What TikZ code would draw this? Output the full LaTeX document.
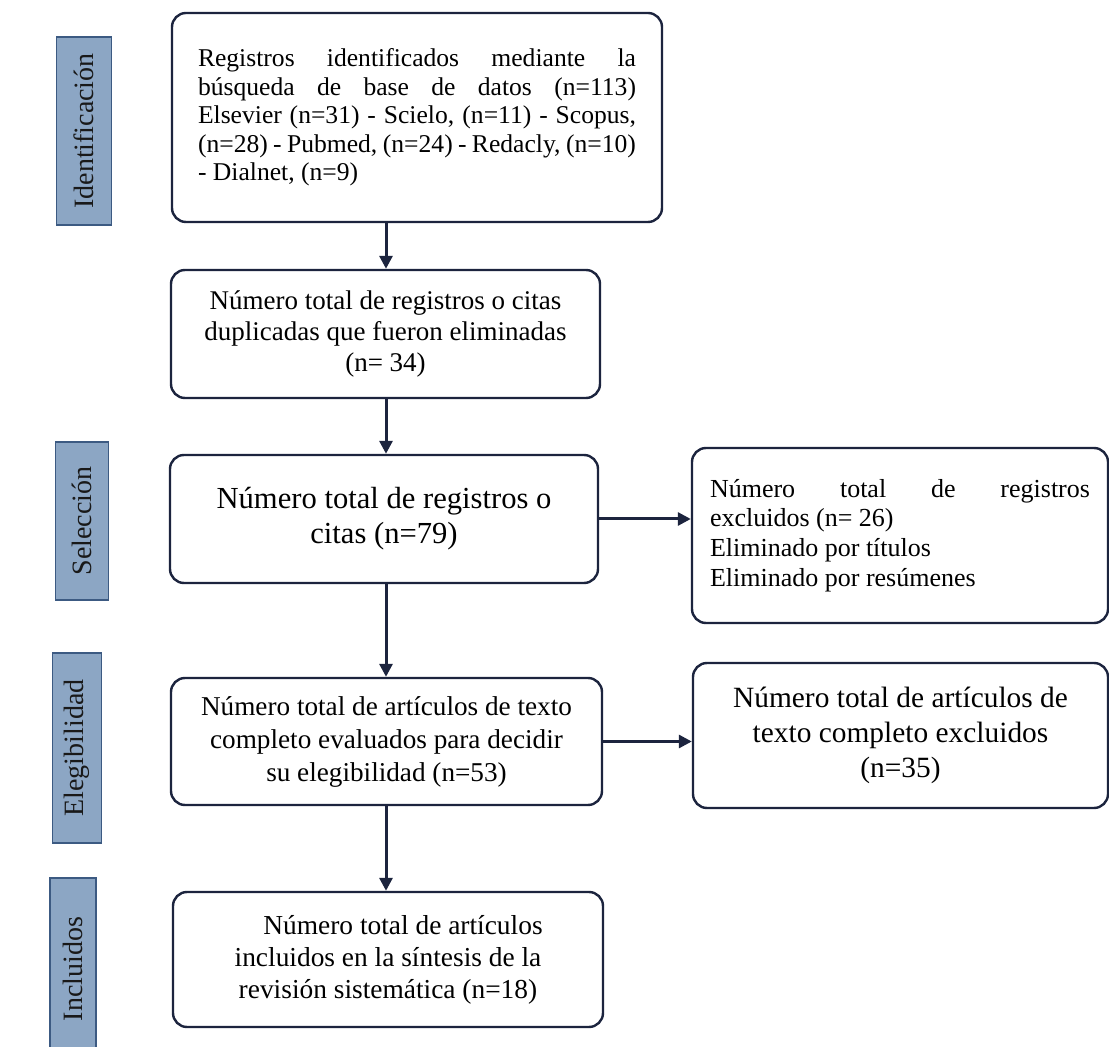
\documentclass[tikz,border=0pt]{standalone}
\usepackage{fontspec}
\setmainfont{Liberation Serif}
\usetikzlibrary{arrows.meta}
\definecolor{linea}{RGB}{28,36,62}
\definecolor{etapafondo}{RGB}{140,166,196}
\definecolor{etapaborde}{RGB}{60,90,130}
\tikzset{
	caja/.style={draw=linea, line width=1.2pt, rounded corners=7pt, align=center, text=black},
	etapa/.style={draw=etapaborde, fill=etapafondo, line width=0.6pt, rotate=90, text=black!90, font=\fontsize{14}{16}\selectfont},
	flecha/.style={draw=linea, line width=1.5pt, -{Triangle[length=6.5pt,width=6.5pt]}}
}
\begin{document}
\begin{tikzpicture}[x=0.5pt,y=-0.5pt]
		%%%%% MARCO %%%%%
		\clip (0,0) rectangle (1109,1047);
		\fill[white] (0,0) rectangle (1109,1047);
		
		%%%%% ETAPAS %%%%%
		\node[etapa, minimum width=94pt, minimum height=27.5pt] (identificacion) at (84,131) {Identificación};
		\node[etapa, minimum width=79pt, minimum height=26.5pt] (seleccion) at (82,521) {Selección};
		\node[etapa, minimum width=95pt, minimum height=24.5pt] (elegibilidad) at (77,748) {Elegibilidad};
		\node[etapa, minimum width=91pt, minimum height=23pt] (incluidos) at (73,969) {Incluidos};
		
		%%%%% CAJAS %%%%%
		\node[caja, minimum width=245pt, minimum height=104.5pt, text width=219pt, align=justify, font=\fontsize{12.8}{14.3}\selectfont] (busqueda) at (417,117.5)
			{Registros identificados mediante la\linebreak búsqueda de base de datos (n=113)\linebreak Elsevier (n=31) - Scielo, (n=11) - Scopus,\linebreak (n=28) - Pubmed, (n=24) - Redacly, (n=10)\linebreak - Dialnet, (n=9)};
		\node[caja, minimum width=214.5pt, minimum height=64pt, font=\fontsize{13.5}{15.5}\selectfont] (duplicados) at (385.5,334)
			{Número total de registros o citas\\duplicadas que fueron eliminadas\\(n= 34)};
		\node[caja, minimum width=214pt, minimum height=64pt, font=\fontsize{15.3}{17.5}\selectfont] (registros) at (384,519)
			{Número total de registros o\\citas (n=79)};
		\node[caja, minimum width=208pt, minimum height=87.5pt, text width=190pt, align=justify, font=\fontsize{13}{14.8}\selectfont] (excluidos) at (900,535.5)
			{Número total de registros\linebreak excluidos (n= 26)\\Eliminado por títulos\\Eliminado por resúmenes};
		\node[caja, minimum width=215.5pt, minimum height=63.5pt, font=\fontsize{13.6}{16.5}\selectfont] (evaluados) at (386.5,741.5)
			{Número total de artículos de texto\\completo evaluados para decidir\\su elegibilidad (n=53)};
		\node[caja, minimum width=207.5pt, minimum height=72.5pt, font=\fontsize{14.7}{17.5}\selectfont] (textoexcl) at (900.5,735.5)
			{Número total de artículos de\\texto completo excluidos\\(n=35)};
		\node[caja, minimum width=215pt, minimum height=67.5pt, font=\fontsize{13.7}{16}\selectfont] (sintesis) at (388,959.5)
			{\hspace*{15pt}Número total de artículos\\incluidos en la síntesis de la\\revisión sistemática (n=18)};
		
		%%%%% FLECHAS %%%%%
		\coordinate (eje) at (386,0);
		\draw[flecha] (busqueda.south -| eje) -- (duplicados.north -| eje);
		\draw[flecha] (duplicados.south -| eje) -- (registros.north -| eje);
		\draw[flecha] (registros.south -| eje) -- (evaluados.north -| eje);
		\draw[flecha] (evaluados.south -| eje) -- (sintesis.north -| eje);
		\draw[flecha] (registros.east) -- (excluidos.west |- registros.east);
		\draw[flecha] (evaluados.east) -- (textoexcl.west |- evaluados.east);
		
	\end{tikzpicture}
\end{document}
